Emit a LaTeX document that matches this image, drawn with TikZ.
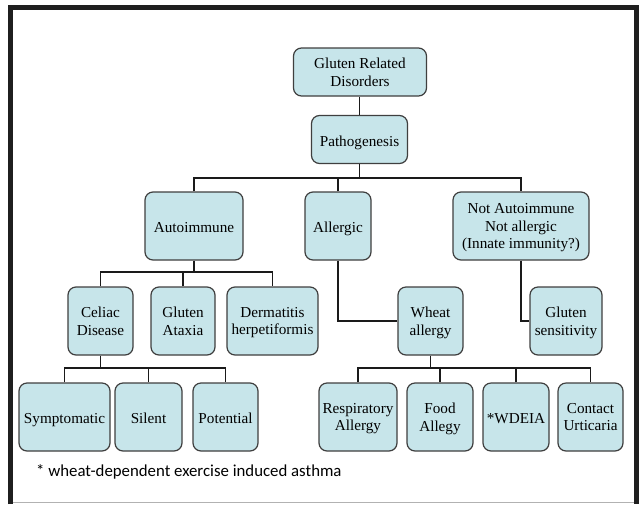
\documentclass[tikz,border=0pt]{standalone}
\usepackage{fontspec}
\setmainfont{Liberation Serif}
\newfontfamily\notefont{Carlito}
\definecolor{boxfill}{HTML}{C7E5EA}
\definecolor{boxline}{HTML}{3F3F3F}
\definecolor{wire}{HTML}{1A1A1A}
\begin{document}
\begin{tikzpicture}[x=1pt,y=-1pt,
  box/.style={draw=boxline,fill=boxfill,line width=1.2pt,rounded corners=8pt,
    align=center,inner sep=0pt,text depth=0pt,font=\fontsize{15.2}{17.7}\selectfont},
  oneline/.style={text height=13.5pt,text depth=0pt},
  wire/.style={draw=wire,line width=1.8pt}]
\useasboundingbox (0,0) rectangle (639,504);
\fill[white] (0,0) rectangle (639,504);
% frame
\draw[black!88,line width=5pt] (10.5,504) -- (10.5,7.5) -- (636,7.5) -- (636,504);
\draw[black!30,line width=1.5pt] (13,502.5) -- (633.5,502.5);
% nodes
\node[box,minimum width=133pt,minimum height=48pt] (grd) at (360,72) {Gluten Related\\Disorders};
\node[box,oneline,minimum width=96pt,minimum height=48pt] (path) at (359.5,139.5) {Pathogenesis};
\node[box,oneline,minimum width=98pt,minimum height=68pt] (auto) at (194,226) {Autoimmune};
\node[box,oneline,minimum width=66pt,minimum height=68pt] (allerg) at (338,226) {Allergic};
\node[box,minimum width=136pt,minimum height=68pt] (notauto) at (521,226) {Not Autoimmune\\Not allergic\\(Innate immunity?)};
\node[box,minimum width=65pt,minimum height=68pt] (celiac) at (100.5,321) {Celiac\\Disease};
\node[box,minimum width=64pt,minimum height=68pt] (ataxia) at (183,321) {Gluten\\Ataxia};
\node[box,minimum width=91pt,minimum height=68pt] (derm) at (272.5,321) {Dermatitis\\herpetiformis};
\node[box,minimum width=65pt,minimum height=68pt] (wheat) at (430.5,321) {Wheat\\allergy};
\node[box,minimum width=72pt,minimum height=68pt] (gsens) at (566,321) {Gluten\\sensitivity};
\node[box,oneline,minimum width=91pt,minimum height=68pt] (symp) at (64.5,417) {Symptomatic};
\node[box,oneline,minimum width=67pt,minimum height=68pt] (silent) at (148.5,417) {Silent};
\node[box,oneline,minimum width=65pt,minimum height=68pt] (potential) at (225.5,417) {Potential};
\node[box,minimum width=78pt,minimum height=68pt] (resp) at (358,417) {Respiratory\\Allergy};
\node[box,minimum width=66pt,minimum height=68pt] (food) at (440,417) {Food\\Allegy};
\node[box,oneline,minimum width=66pt,minimum height=68pt] (wdeia) at (516,417) {*WDEIA};
\node[box,minimum width=65pt,minimum height=68pt] (contact) at (590.5,417) {Contact\\Urticaria};
\node[anchor=base west,inner sep=0pt,font=\notefont\fontsize{16.8}{19}\selectfont] (note) at (36,476) {* wheat-dependent exercise induced asthma};
% bus coordinates
\coordinate (b1) at (0,178);
\coordinate (b2) at (0,272);
\coordinate (b3) at (0,368);
% connectors
\draw[wire] (path.north) -- (path.north |- grd.south);
\draw[wire] (path.south) -- (path.south |- b1);
\draw[wire] (auto.north) |- (b1 -| notauto.north) -- (notauto.north);
\draw[wire] (allerg.north) -- (allerg.north |- b1);
\draw[wire] (auto.south) -- (auto.south |- b2);
\draw[wire] (celiac.north) |- (b2 -| derm.north) -- (derm.north);
\draw[wire] (ataxia.north) -- (ataxia.north |- b2);
\draw[wire] (allerg.south) |- (wheat.west);
\draw[wire] (notauto.south) |- (gsens.west);
\draw[wire] (celiac.south) -- (celiac.south |- b3);
\draw[wire] (symp.north) |- (b3 -| potential.north) -- (potential.north);
\draw[wire] (silent.north) -- (silent.north |- b3);
\draw[wire] (wheat.south) -- (wheat.south |- b3);
\draw[wire] (resp.north) |- (b3 -| contact.north) -- (contact.north);
\draw[wire] (food.north) -- (food.north |- b3);
\draw[wire] (wdeia.north) -- (wdeia.north |- b3);
\end{tikzpicture}
\end{document}
